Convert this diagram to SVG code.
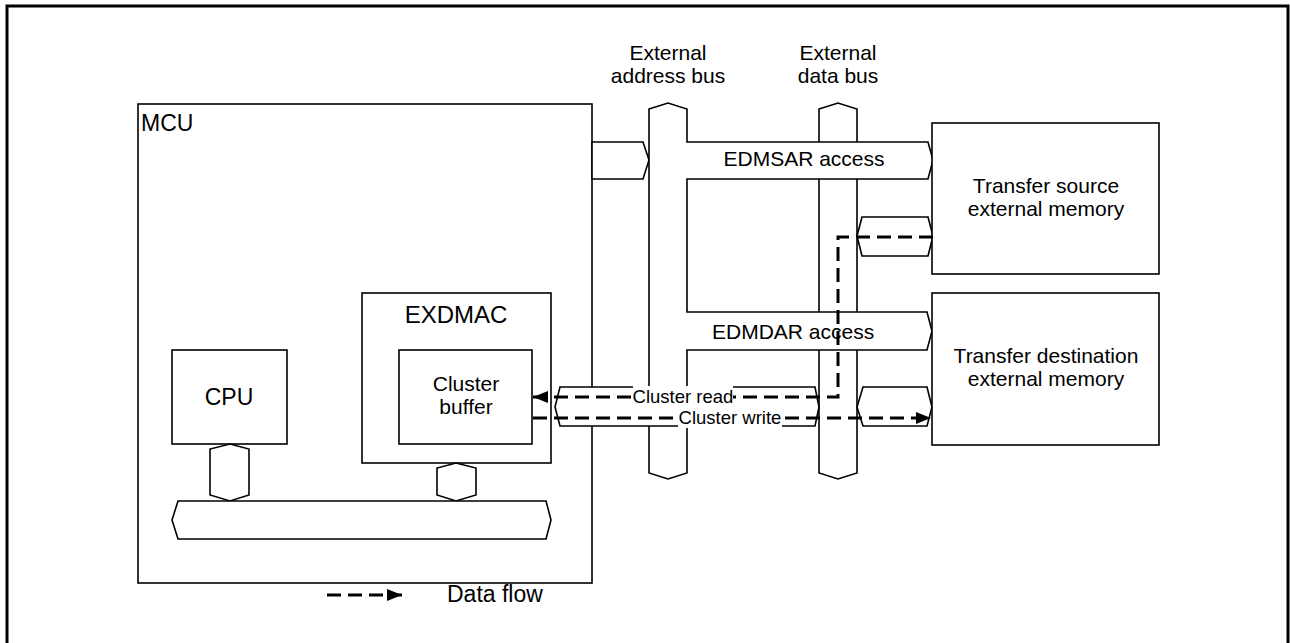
<svg xmlns="http://www.w3.org/2000/svg" width="1290" height="643" viewBox="0 0 1290 643">
<style>
.box{fill:#fff;stroke:#000;stroke-width:1.6}
.t{font-family:"Liberation Sans",Arial,sans-serif;fill:#000}
.flow{fill:none;stroke:#000;stroke-width:3;stroke-dasharray:14 7}
.lbl{fill:#fff;stroke:none}
</style>
<defs>
<marker id="ah" markerWidth="15" markerHeight="12" refX="15" refY="6" orient="auto" markerUnits="userSpaceOnUse">
<path d="M0,0 L15,6 L0,12 Z" fill="#000"/>
</marker>
</defs>
<rect x="0" y="0" width="1290" height="643" fill="#fff"/>
<rect id="frame" x="7" y="6" width="1281" height="660" fill="none" stroke="#000" stroke-width="3"/>

<g id="mcu">
<rect class="box" x="138" y="104" width="454" height="479"/>
<text class="t" x="141" y="131" font-size="23">MCU</text>
</g>
<g id="cpu">
<rect class="box" x="172" y="350" width="115" height="94"/>
<text class="t" x="229" y="405" font-size="23" text-anchor="middle">CPU</text>
</g>
<g id="exdmac">
<rect class="box" x="362" y="293" width="189" height="170"/>
<text class="t" x="456" y="323" font-size="24" text-anchor="middle">EXDMAC</text>
</g>
<g id="cluster-buffer">
<rect class="box" x="399" y="350" width="133" height="94"/>
<text class="t" x="466" y="391" font-size="21" text-anchor="middle">Cluster</text>
<text class="t" x="466" y="414" font-size="21" text-anchor="middle">buffer</text>
</g>
<g id="cpu-link">
<polygon class="box" points="230,444 249,449 249,495 230,501 210,495 210,449"/>
</g>
<g id="exdmac-link">
<polygon class="box" points="456,463 476,468 476,495 456,501 437,495 437,468"/>
</g>
<g id="internal-bus">
<polygon class="box" points="178,501 546,501 551,520 546,539 178,539 172,520"/>
</g>

<g id="mcu-addr-out">
<polygon class="box" points="592,142 643,142 649,160 643,179 592,179"/>
</g>
<g id="data-bus">
<polygon class="box" points="819,109 838,103 857,109 857,473 838,479 819,473"/>
<text class="t" x="838" y="60" font-size="21" text-anchor="middle">External</text>
<text class="t" x="838" y="83" font-size="21" text-anchor="middle">data bus</text>
</g>
<g id="address-bus">
<polygon class="box" points="649,109 668,103 687,109 687,142 928,142 933,160 928,179 687,179 687,312 927,312 932,331 927,350 687,350 687,473 668,479 649,473"/>
<text class="t" x="668" y="60" font-size="21" text-anchor="middle">External</text>
<text class="t" x="668" y="83" font-size="21" text-anchor="middle">address bus</text>
<text class="t" x="804" y="166" font-size="21" text-anchor="middle">EDMSAR access</text>
<text class="t" x="712" y="339" font-size="21">EDMDAR access</text>
</g>
<g id="src-data-link">
<polygon class="box" points="862,217 928,217 933,236 928,256 862,256 857,236"/>
</g>
<g id="cluster-link-left">
<polygon class="box" points="560,387 815,387 819,407 815,426 560,426 555,407"/>
</g>
<g id="cluster-link-right">
<polygon class="box" points="863,387 927,387 932,407 927,426 863,426 857,407"/>
</g>
<g id="src-mem">
<rect class="box" x="932" y="123" width="227" height="151"/>
<text class="t" x="1046" y="193" font-size="21" text-anchor="middle">Transfer source</text>
<text class="t" x="1046" y="216" font-size="21" text-anchor="middle">external memory</text>
</g>
<g id="dst-mem">
<rect class="box" x="932" y="293" width="227" height="152"/>
<text class="t" x="1046" y="363" font-size="21" text-anchor="middle">Transfer destination</text>
<text class="t" x="1046" y="386" font-size="21" text-anchor="middle">external memory</text>
</g>

<g id="connectors">
<path class="flow" d="M933,237 L838,237 L838,397 L533,397" marker-end="url(#ah)"/>
<path class="flow" d="M533,418 L931,418" marker-end="url(#ah)"/>
<rect class="lbl" x="633" y="386" width="100" height="20"/>
<text class="t" x="683" y="403" font-size="18.5" text-anchor="middle">Cluster read</text>
<rect class="lbl" x="678" y="408" width="104" height="20"/>
<text class="t" x="730" y="424" font-size="18.5" text-anchor="middle">Cluster write</text>
</g>

<g id="legend">
<path class="flow" d="M327,595 L402,595" stroke-dasharray="17 7" marker-end="url(#ah)"/>
<text class="t" x="447" y="602" font-size="23">Data flow</text>
</g>
</svg>
